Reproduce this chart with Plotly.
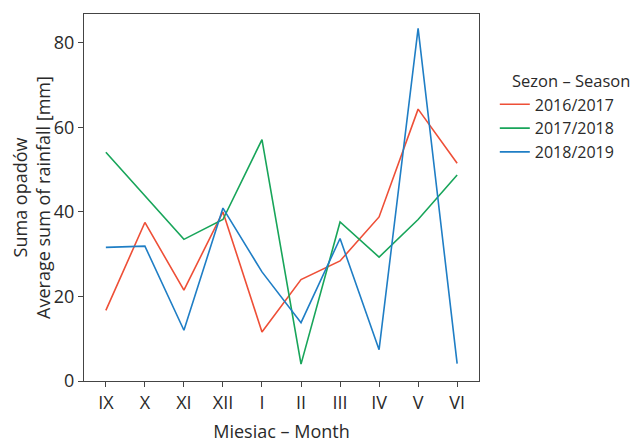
import plotly.graph_objects as go

months = ["IX", "X", "XI", "XII", "I", "II", "III", "IV", "V", "VI"]
s2016_2017 = [16.7, 37.5, 21.5, 40.0, 11.6, 24.0, 28.4, 38.8, 64.3, 51.5]
s2017_2018 = [54.1, 43.8, 33.5, 38.2, 57.1, 4.0, 37.6, 29.3, 38.2, 48.7]
s2018_2019 = [31.6, 31.9, 12.0, 40.9, 25.8, 13.8, 33.7, 7.4, 83.4, 4.1]
series_names = ["2016/2017", "2017/2018", "2018/2019"]
colors = ["#ee4f37", "#18a55a", "#1f7ec5"]

FONT = "Open Sans"
TXT = "#2a2a2a"

fig = go.Figure()
for name, vals, col in zip(series_names, [s2016_2017, s2017_2018, s2018_2019], colors):
    fig.add_trace(go.Scatter(x=list(range(len(months))), y=vals, mode="lines", name=name,
                             line=dict(color=col, width=1.6)))

fig.update_layout(
    width=632, height=435,
    margin=dict(l=76, r=161, t=6, b=62, autoexpand=False),
    paper_bgcolor="white", plot_bgcolor="white",
    font=dict(family=FONT, size=16, color=TXT),
    showlegend=True,
    legend=dict(x=1.04, xanchor="left", y=0.80, yanchor="top",
                font=dict(size=16, color=TXT), tracegroupgap=0,
                bgcolor="rgba(0,0,0,0)"),
    annotations=[dict(text="Sezon – Season", xref="paper", yref="paper",
                      x=1.078, y=0.82, xanchor="left", yanchor="middle",
                      showarrow=False, font=dict(size=16.5, color=TXT))],
)
fig.update_xaxes(
    tickmode="array", tickvals=list(range(len(months))), ticktext=months,
    range=[-0.56, 9.56], showgrid=False, zeroline=False, automargin=False,
    showline=True, linecolor="#444", linewidth=1.2, mirror=True,
    ticks="outside", ticklen=5, tickcolor="#444",
    tickfont=dict(size=18, color=TXT),
    title=dict(text="Miesiac – Month", font=dict(size=18, color=TXT), standoff=15),
)
fig.update_yaxes(
    range=[0, 86.8], tickvals=[0, 20, 40, 60, 80], showgrid=False, zeroline=False,
    automargin=True,
    showline=True, linecolor="#444", linewidth=1.2, mirror=True,
    ticks="outside", ticklen=5, tickcolor="#444",
    tickfont=dict(size=18, color=TXT),
    title=dict(text="Suma opadów<br>Average sum of rainfall [mm]",
               font=dict(size=18, color=TXT), standoff=4),
)

fig.write_html("out.html")
